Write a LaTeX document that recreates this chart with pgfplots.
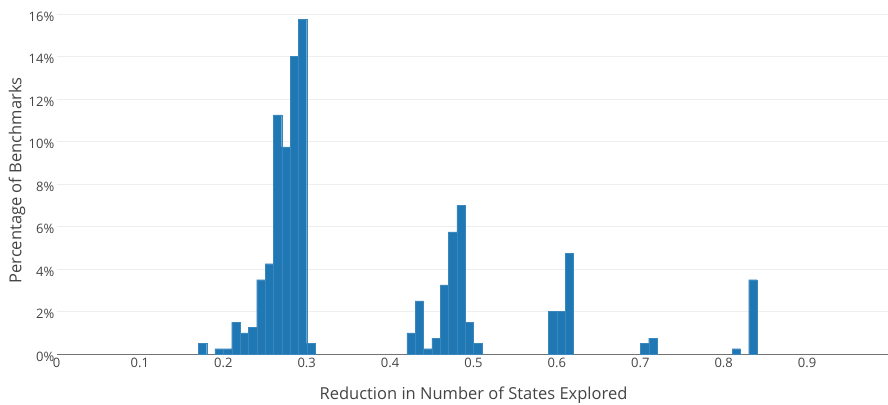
\documentclass[border=0pt]{standalone}
\usepackage{pgfplots}
\pgfplotsset{compat=1.18}
\usepackage{fontspec}
\setmainfont{Open Sans}
\definecolor{barblue}{HTML}{1F77B4}
\definecolor{txt}{HTML}{444444}
\definecolor{gridc}{HTML}{EEEEEE}
\begin{document}
\begin{tikzpicture}
\begin{axis}[
  scale only axis,
  width=834bp, height=347bp,
  xmin=0, xmax=1, ymin=0, ymax=16.33,
  axis lines=left,
  axis line style={-},
  x axis line style={draw=black!55, line width=0.8bp},
  y axis line style={draw=none},
  major tick length=0pt,
  xtick={0,0.1,0.2,0.3,0.4,0.5,0.6,0.7,0.8,0.9,1},
  xticklabels={0,0.1,0.2,0.3,0.4,0.5,0.6,0.7,0.8,0.9,1},
  ytick={0,2,4,6,8,10,12,14,16},
  yticklabels={0\%,2\%,4\%,6\%,8\%,10\%,12\%,14\%,16\%},
  ymajorgrids,
  grid style={draw=gridc, line width=0.8bp},
  /pgf/number format/assume math mode=true,
  ticklabel style={font=\fontsize{13bp}{15bp}\selectfont, text=txt},
  xticklabel style={inner sep=0pt, anchor=north, yshift=-4bp},
  yticklabel style={inner sep=0pt, anchor=east, xshift=-2bp, yshift=-2.5bp},
  xlabel={Reduction in Number of States Explored},
  ylabel={Percentage of Benchmarks},
  label style={font=\fontsize{16.5bp}{18bp}\selectfont, text=txt},
  xlabel style={at={(axis description cs:0.5,0)}, anchor=center, yshift=-41bp},
  ylabel style={at={(axis description cs:0,0.5)}, anchor=center, rotate=0, yshift=39.5bp},
  clip=false,
]
\addplot[ybar, bar width=0.01, bar shift=0, fill=barblue, draw=barblue!88!white, line width=0.2bp] coordinates {
(0.175,0.5)
(0.195,0.25) (0.205,0.25) (0.215,1.5) (0.225,1.0) (0.235,1.25) (0.245,3.5)
(0.255,4.25) (0.265,11.25) (0.275,9.75) (0.285,14.0) (0.295,15.75) (0.305,0.5)
(0.425,1.0) (0.435,2.5) (0.445,0.25) (0.455,0.75) (0.465,3.25) (0.475,5.75)
(0.485,7.0) (0.495,1.5) (0.505,0.5)
(0.595,2.0) (0.605,2.0) (0.615,4.75)
(0.705,0.5) (0.715,0.75)
(0.815,0.25) (0.835,3.5)
};
\end{axis}
\pgfresetboundingbox
\useasboundingbox (-56.5bp,-51bp) rectangle (831.5bp,354bp);
\end{tikzpicture}
\end{document}
